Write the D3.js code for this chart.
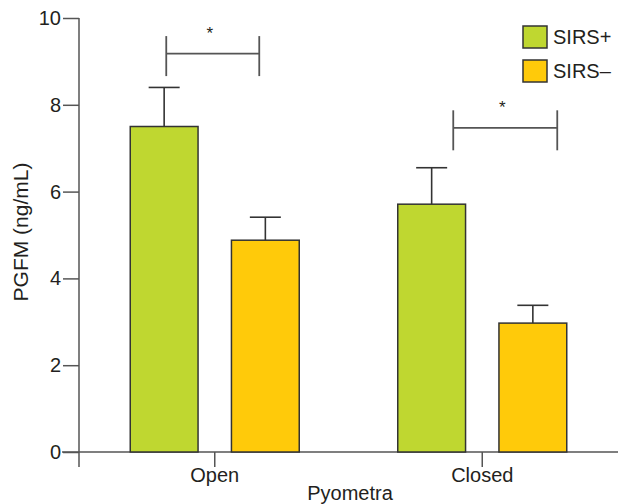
<!DOCTYPE html>
<html>
<head>
<meta charset="utf-8">
<script src="https://cdn.jsdelivr.net/npm/d3@7"></script>
<style>
  body { margin: 0; background: #fff; }
  svg { font-family: "Liberation Sans", Arial, sans-serif; }
</style>
</head>
<body>
<script>
// data
var groepen = ["Open", "Closed"];
var series = ["SIRS+", "SIRS\u2013"];
var gemiddelden = [[7.5, 4.88], [5.71, 2.97]];   // [groep][serie]
var foutTop = [[8.4, 5.41], [6.55, 3.38]];
var yTicks = [0, 2, 4, 6, 8, 10];
var sterLabels = ["*", "*"];
var sterNiveau = [9.18, 7.47];

// layout
var breedte = 618, hoogte = 504;
var marge = {boven: 18, links: 79, beneden: 52};
var kleuren = ["#bfd730", "#ffca0a"];
var lijnKleur = "#555555";
var tekstKleur = "#231f20";
var haakVerschuiving = [[-48.5, 44.5], [-29, 75]];

var svg = d3.select("body").append("svg")
    .attr("width", breedte)
    .attr("height", hoogte);

var y = d3.scaleLinear()
    .domain([0, 10])
    .range([hoogte - marge.beneden, marge.boven]);

var x0 = d3.scaleBand()
    .domain(groepen)
    .range([81, 616]);

var x1 = d3.scaleBand()
    .domain(series)
    .range([-84.5, 84.5])
    .paddingInner(0.33);

var basis = y(0);

// x-as lijn
svg.append("line")
    .attr("x1", 62).attr("x2", breedte)
    .attr("y1", basis).attr("y2", basis)
    .attr("stroke", lijnKleur).attr("stroke-width", 1.5);

// y-as
var asY = svg.append("g")
    .attr("transform", "translate(" + marge.links + ",0)")
    .call(d3.axisLeft(y).tickValues(yTicks).tickSize(16).tickSizeOuter(0).tickPadding(2));
asY.select(".domain").remove();
asY.selectAll(".tick line").attr("stroke", lijnKleur).attr("stroke-width", 1.5);
asY.selectAll(".tick text")
    .attr("font-size", "20px")
    .attr("fill", tekstKleur)
    .attr("font-family", "Liberation Sans, Arial, sans-serif");
svg.append("line")
    .attr("x1", marge.links).attr("x2", marge.links)
    .attr("y1", y(10)).attr("y2", basis + 15)
    .attr("stroke", lijnKleur).attr("stroke-width", 1.5);

// x-as ticks en labels
var asX = svg.append("g")
    .attr("transform", "translate(0," + basis + ")")
    .call(d3.axisBottom(x0).tickSize(15).tickSizeOuter(0).tickPadding(1));
asX.select(".domain").remove();
asX.selectAll(".tick line").attr("stroke", lijnKleur).attr("stroke-width", 1.5);
asX.selectAll(".tick text")
    .attr("font-size", "20px")
    .attr("fill", tekstKleur)
    .attr("font-family", "Liberation Sans, Arial, sans-serif");

// staven
var staven = [];
groepen.forEach(function(g, gi) {
  series.forEach(function(s, si) {
    staven.push({groep: g, serie: s, si: si, waarde: gemiddelden[gi][si], fout: foutTop[gi][si]});
  });
});

function midden(d) {
  return x0(d.groep) + x0.bandwidth() / 2 + x1(d.serie) + x1.bandwidth() / 2;
}

// foutbalken
svg.append("g").selectAll("line")
    .data(staven)
    .enter().append("line")
    .attr("x1", midden).attr("x2", midden)
    .attr("y1", function(d) { return y(d.waarde); })
    .attr("y2", function(d) { return y(d.fout); })
    .attr("stroke", "#333").attr("stroke-width", 1.6);
svg.append("g").selectAll("line")
    .data(staven)
    .enter().append("line")
    .attr("x1", function(d) { return midden(d) - 15.5; })
    .attr("x2", function(d) { return midden(d) + 15.5; })
    .attr("y1", function(d) { return y(d.fout); })
    .attr("y2", function(d) { return y(d.fout); })
    .attr("stroke", "#333").attr("stroke-width", 1.6);

svg.append("g").selectAll("rect")
    .data(staven)
    .enter().append("rect")
    .attr("x", function(d) { return midden(d) - x1.bandwidth() / 2; })
    .attr("y", function(d) { return y(d.waarde); })
    .attr("width", x1.bandwidth())
    .attr("height", function(d) { return basis - y(d.waarde); })
    .attr("fill", function(d) { return kleuren[d.si]; })
    .attr("stroke", "#333").attr("stroke-width", 1.5);

// significantie haken
groepen.forEach(function(g, gi) {
  var cx = x0(g) + x0.bandwidth() / 2;
  var links = cx + haakVerschuiving[gi][0];
  var rechts = cx + haakVerschuiving[gi][1];
  var hy = y(sterNiveau[gi]);
  var haak = svg.append("g")
      .attr("stroke", lijnKleur).attr("stroke-width", 1.8);
  haak.append("line").attr("x1", links).attr("x2", rechts).attr("y1", hy).attr("y2", hy);
  haak.append("line").attr("x1", links).attr("x2", links).attr("y1", hy - 17.5).attr("y2", hy + 22.5);
  haak.append("line").attr("x1", rechts).attr("x2", rechts).attr("y1", hy - 17.5).attr("y2", hy + 22.5);
  svg.append("text")
      .attr("x", (links + rechts) / 2 - 3)
      .attr("y", hy - 15)
      .attr("text-anchor", "middle")
      .attr("font-size", "17px")
      .attr("fill", tekstKleur)
      .text(sterLabels[gi]);
});

// legenda
var legenda = svg.append("g").selectAll("g")
    .data(series)
    .enter().append("g")
    .attr("transform", function(d, i) { return "translate(523," + (26 + i * 34) + ")"; });
legenda.append("rect")
    .attr("width", 24).attr("height", 22)
    .attr("fill", function(d, i) { return kleuren[i]; })
    .attr("stroke", "#333").attr("stroke-width", 1.5);
legenda.append("text")
    .attr("x", 30).attr("y", 18)
    .attr("font-size", "20px")
    .attr("fill", tekstKleur)
    .text(function(d) { return d; });

// as titels
svg.append("text")
    .attr("transform", "translate(28," + 232 + ") rotate(-90)")
    .attr("text-anchor", "middle")
    .attr("font-size", "21px")
    .attr("fill", tekstKleur)
    .text("PGFM (ng/mL)");
svg.append("text")
    .attr("x", 350).attr("y", 500)
    .attr("text-anchor", "middle")
    .attr("font-size", "20px")
    .attr("fill", tekstKleur)
    .text("Pyometra");
</script>
</body>
</html>
